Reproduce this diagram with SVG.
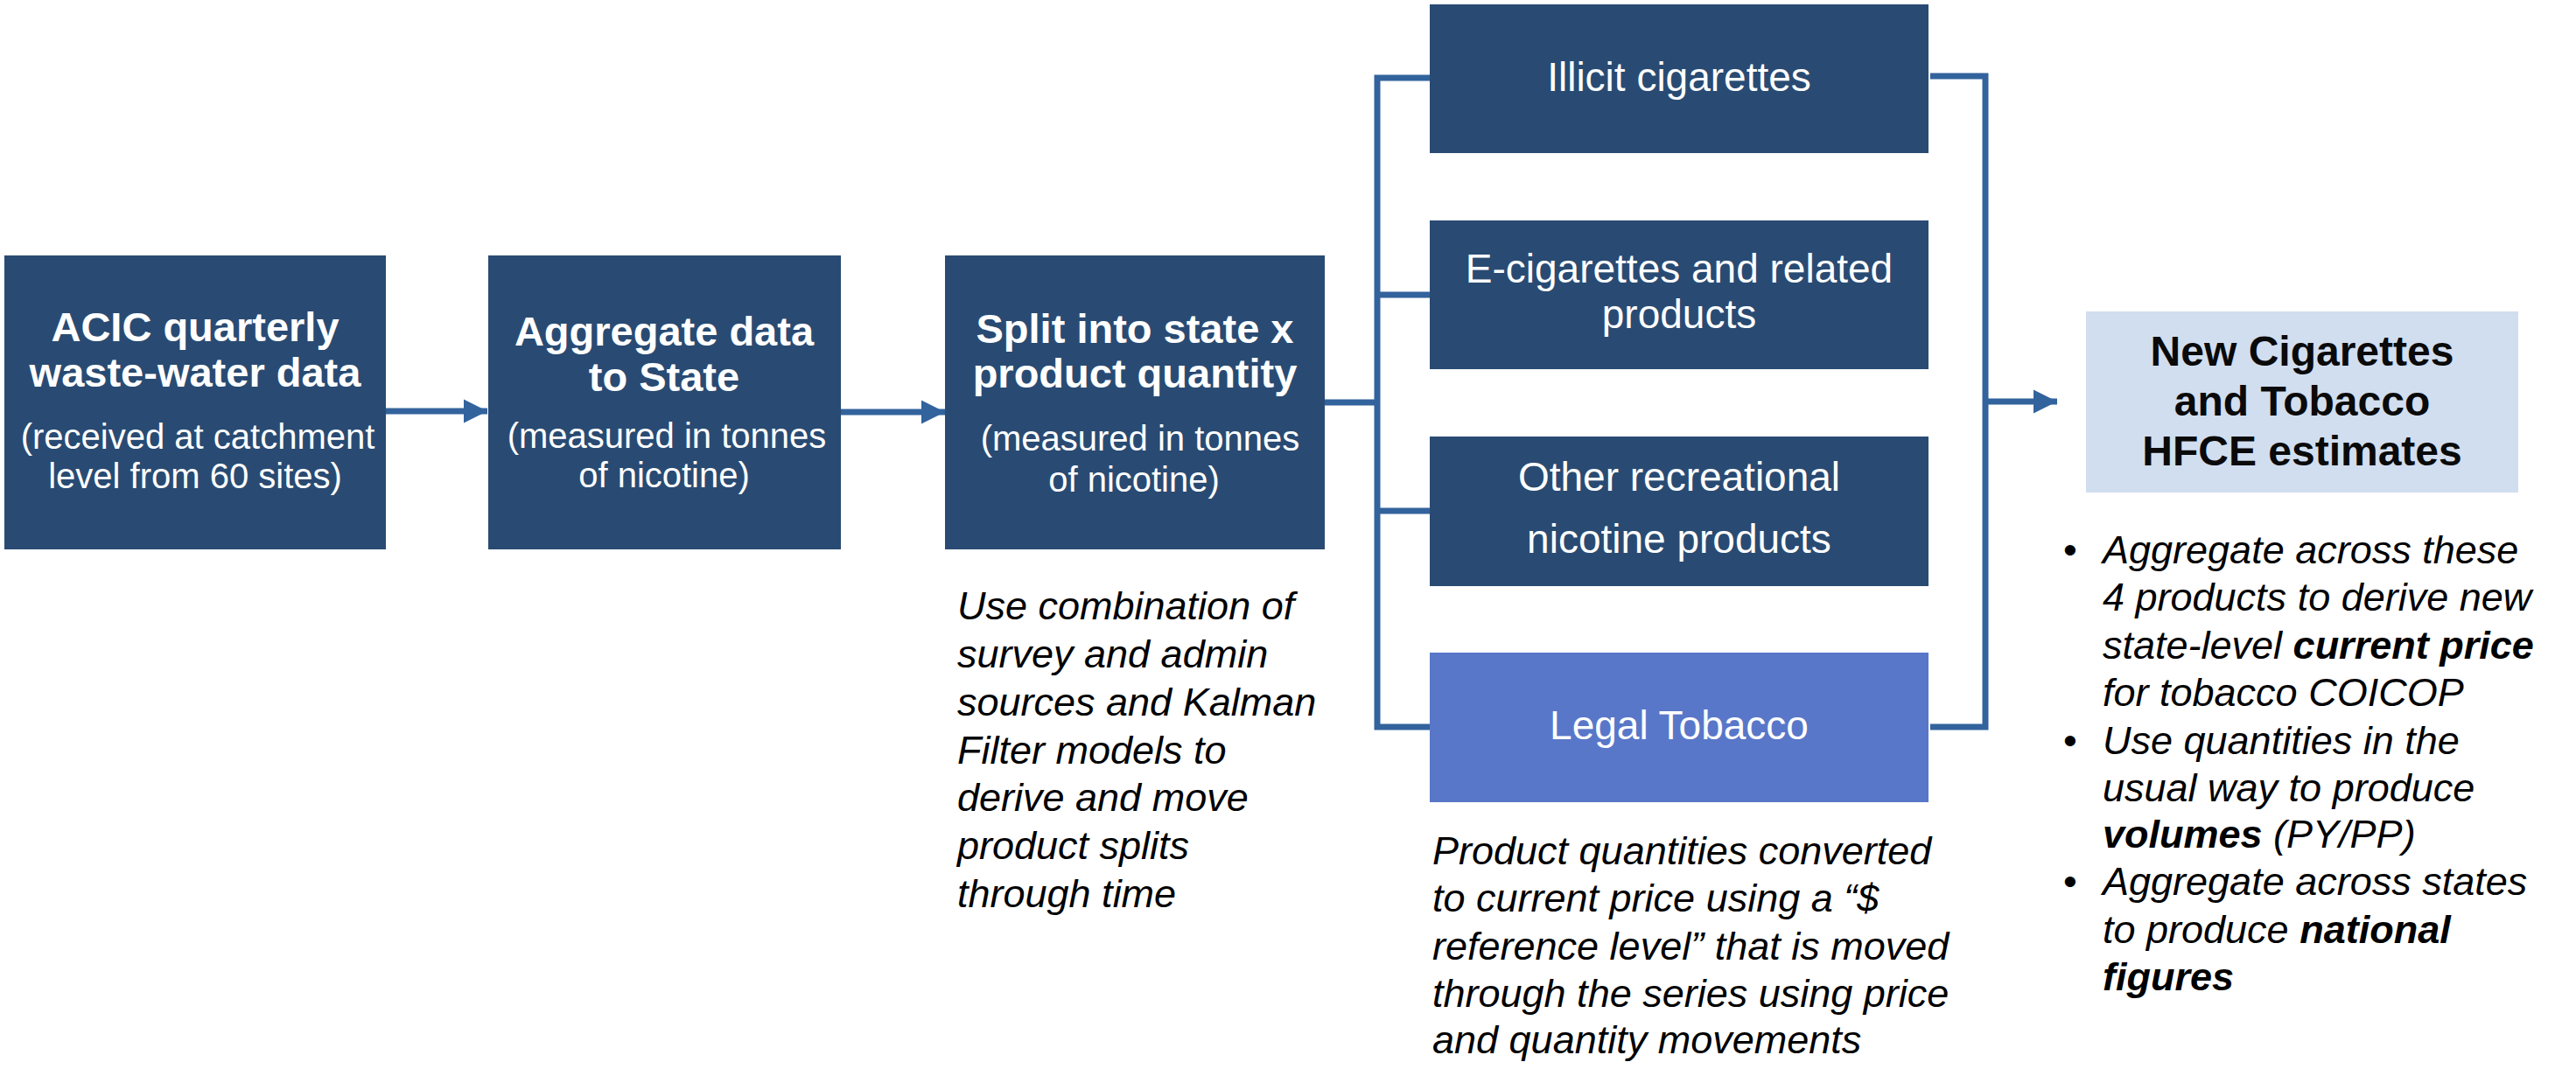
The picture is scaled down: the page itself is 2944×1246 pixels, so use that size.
<svg xmlns="http://www.w3.org/2000/svg" width="2944" height="1246" viewBox="0 0 2944 1246">
<defs>
<style>
.box{fill:#294B73}
.legal{fill:#5977C9}
.out{fill:#D1DEF0}
.t{font-family:"Liberation Sans",Arial,sans-serif;fill:#fff;text-anchor:middle}
.tb{font-size:47px;font-weight:bold}
.ts{font-size:40px}
.tp{font-size:46px}
.note{font-family:"Liberation Sans",Arial,sans-serif;font-size:45px;font-style:italic;fill:#000}
.ot{font-family:"Liberation Sans",Arial,sans-serif;font-size:48px;font-weight:bold;fill:#0A0A0A;text-anchor:middle}
.conn{stroke:#32639C;stroke-width:7;fill:none}
</style>
<marker id="ah" markerWidth="27" markerHeight="28" refX="27" refY="14" orient="auto" markerUnits="userSpaceOnUse">
<path d="M0,0.5 L27,14 L0,27.5 Z" fill="#32639C"/>
</marker>
</defs>
<rect width="2944" height="1246" fill="#fff"/>
<g id="connectors">
<line class="conn" x1="441" y1="470" x2="557" y2="470" marker-end="url(#ah)"/>
<line class="conn" x1="961" y1="471" x2="1080" y2="471" marker-end="url(#ah)"/>
<line class="conn" x1="1514" y1="460" x2="1574" y2="460"/>
<polyline class="conn" points="1634,89 1574,89 1574,831 1634,831"/>
<line class="conn" x1="1574" y1="337" x2="1634" y2="337"/>
<line class="conn" x1="1574" y1="584" x2="1634" y2="584"/>
<polyline class="conn" points="2206,87 2269,87 2269,831 2206,831"/>
<line class="conn" x1="2269" y1="459" x2="2351" y2="459" marker-end="url(#ah)"/>
</g>
<g id="node-acic">
<rect class="box" x="5" y="292" width="436" height="336"/>
<text class="t tb" x="223" y="390">ACIC quarterly</text>
<text class="t tb" x="223" y="442">waste-water data</text>
<text class="t ts" x="226" y="513">(received at catchment</text>
<text class="t ts" x="223" y="558">level from 60 sites)</text>
</g>
<g id="node-aggregate">
<rect class="box" x="558" y="292" width="403" height="336"/>
<text class="t tb" x="759" y="395">Aggregate data</text>
<text class="t tb" x="759" y="447">to State</text>
<text class="t ts" x="762" y="512">(measured in tonnes</text>
<text class="t ts" x="759" y="557">of nicotine)</text>
</g>
<g id="node-split">
<rect class="box" x="1080" y="292" width="434" height="336"/>
<text class="t tb" x="1297" y="392">Split into state x</text>
<text class="t tb" x="1297" y="443">product quantity</text>
<text class="t ts" x="1303" y="515">(measured in tonnes</text>
<text class="t ts" x="1296" y="562">of nicotine)</text>
</g>
<g id="note-split">
<text class="note" x="1094" y="708">Use combination of</text>
<text class="note" x="1094" y="763">survey and admin</text>
<text class="note" x="1094" y="818">sources and Kalman</text>
<text class="note" x="1094" y="873">Filter models to</text>
<text class="note" x="1094" y="927">derive and move</text>
<text class="note" x="1094" y="982">product splits</text>
<text class="note" x="1094" y="1037">through time</text>
</g>
<g id="node-illicit">
<rect class="box" x="1634" y="5" width="570" height="170"/>
<text class="t tp" x="1919" y="104">Illicit cigarettes</text>
</g>
<g id="node-ecig">
<rect class="box" x="1634" y="252" width="570" height="170"/>
<text class="t tp" x="1919" y="323">E-cigarettes and related</text>
<text class="t tp" x="1919" y="375">products</text>
</g>
<g id="node-other">
<rect class="box" x="1634" y="499" width="570" height="171"/>
<text class="t tp" x="1919" y="561">Other recreational</text>
<text class="t tp" x="1919" y="632">nicotine products</text>
</g>
<g id="node-legal">
<rect class="legal" x="1634" y="746" width="570" height="171"/>
<text class="t tp" x="1919" y="845">Legal Tobacco</text>
</g>
<g id="note-products">
<text class="note" x="1637" y="988">Product quantities converted</text>
<text class="note" x="1637" y="1042">to current price using a “$</text>
<text class="note" x="1637" y="1097">reference level” that is moved</text>
<text class="note" x="1637" y="1151">through the series using price</text>
<text class="note" x="1637" y="1204">and quantity movements</text>
</g>
<g id="node-output">
<rect class="out" x="2384" y="356" width="494" height="207"/>
<text class="ot" x="2631" y="418">New Cigarettes</text>
<text class="ot" x="2631" y="475">and Tobacco</text>
<text class="ot" x="2631" y="532">HFCE estimates</text>
</g>
<g id="note-output">
<text class="note" x="2358" y="644" style="font-style:normal">•</text>
<text class="note" x="2403" y="644">Aggregate across these</text>
<text class="note" x="2403" y="698">4 products to derive new</text>
<text class="note" x="2403" y="753">state-level <tspan font-weight="bold">current price</tspan></text>
<text class="note" x="2403" y="807">for tobacco COICOP</text>
<text class="note" x="2358" y="862" style="font-style:normal">•</text>
<text class="note" x="2403" y="862">Use quantities in the</text>
<text class="note" x="2403" y="916">usual way to produce</text>
<text class="note" x="2403" y="969"><tspan font-weight="bold">volumes</tspan> (PY/PP)</text>
<text class="note" x="2358" y="1023" style="font-style:normal">•</text>
<text class="note" x="2403" y="1023">Aggregate across states</text>
<text class="note" x="2403" y="1078">to produce <tspan font-weight="bold">national</tspan></text>
<text class="note" x="2403" y="1132" font-weight="bold">figures</text>
</g>
</svg>
